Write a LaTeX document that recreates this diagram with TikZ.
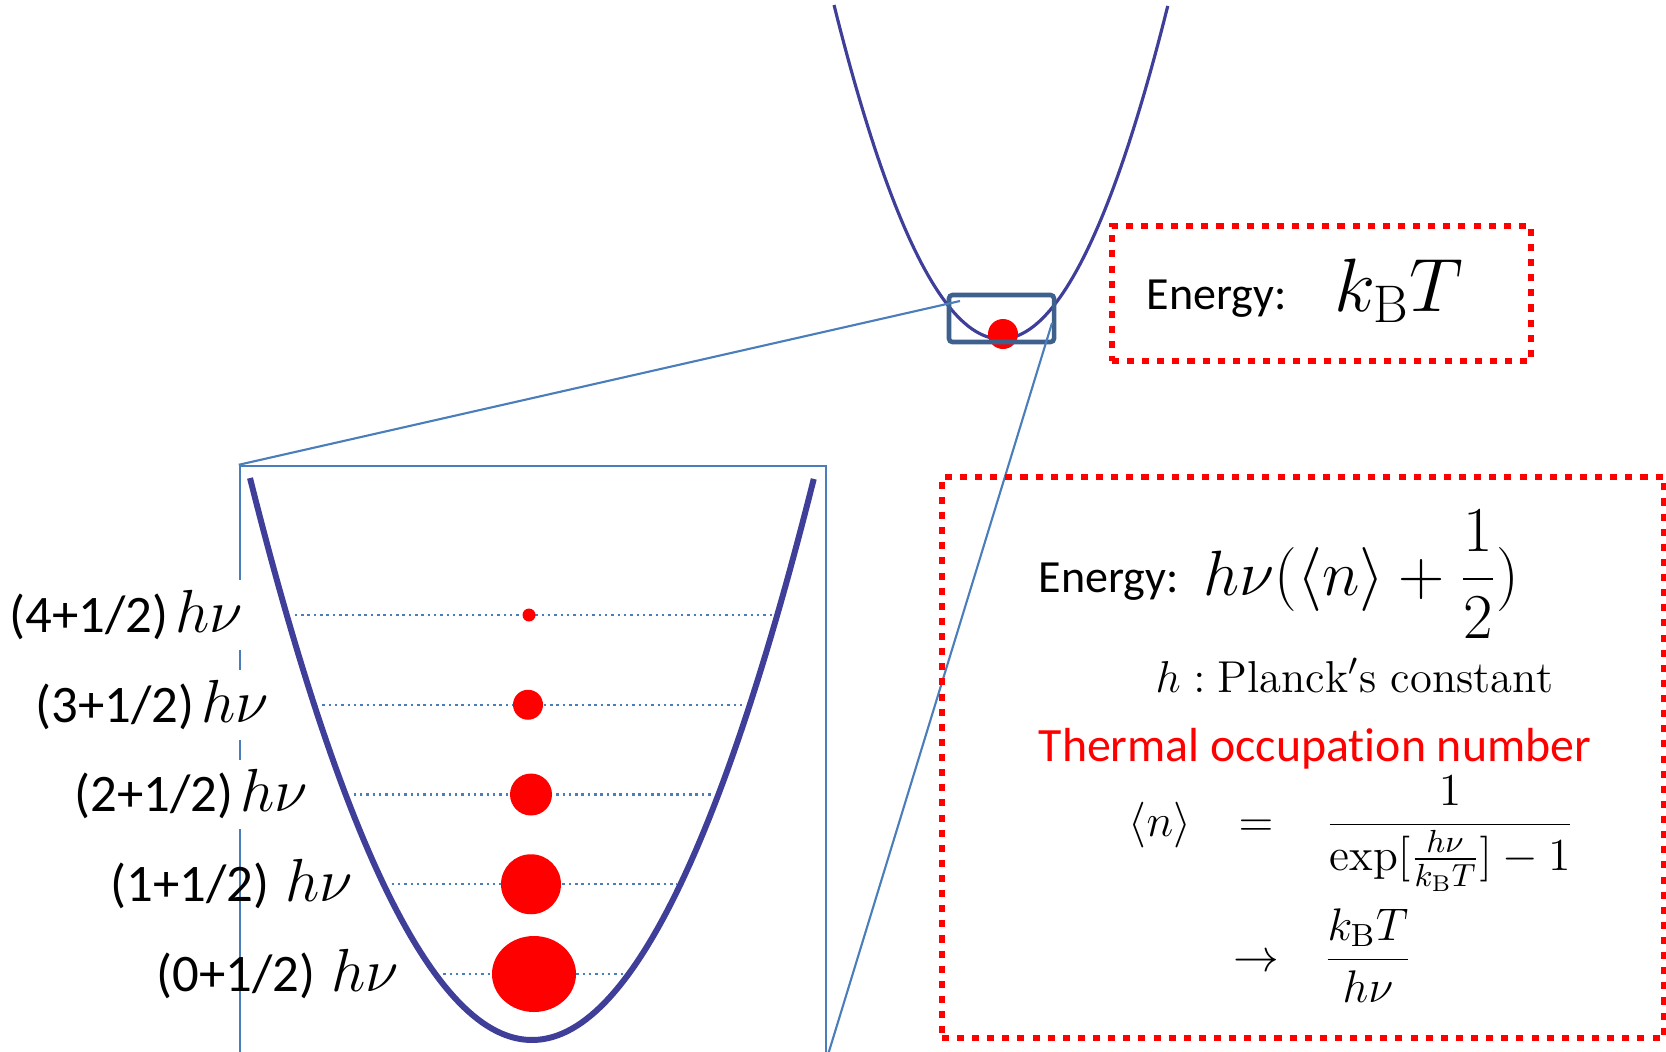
\RequirePackage{fix-cm}
\documentclass[tikz,border=0pt]{standalone}
\usepackage{amsmath}
\usepackage{fontspec}
\setsansfont{Carlito}[Ligatures=NoCommon]
\usetikzlibrary{positioning}

\definecolor{wellblue}{RGB}{63,63,153}
\definecolor{zoomblue}{RGB}{74,126,187}
\definecolor{spotblue}{RGB}{62,96,140}

\newcommand{\sanslab}{\sffamily\fontsize{15}{18}\selectfont}
\newcommand{\mathlab}{\fontsize{17.3}{20}\selectfont}

\tikzset{
  zoomline/.style={zoomblue, line width=0.6pt},
  levelline/.style={zoomblue, line width=0.7pt, dash pattern=on 0.7pt off 1.1pt},
  redbox/.style={draw=red, line width=1.7pt, dash pattern=on 2pt off 2.3pt, inner sep=0pt},
  levellabel/.style={inner xsep=0pt, inner ysep=0.1cm},
  energytext/.style={inner sep=0pt, font=\sffamily\fontsize{13.1}{16}\selectfont},
  eqtext/.style={inner sep=0pt, font=\fontsize{13}{16}\selectfont}
}

\begin{document}
\begin{tikzpicture}[x=0.01cm, y=-0.01cm]
\useasboundingbox (0,0) rectangle (1666,1051);
\clip (0,0) rectangle (1666,1051);

% --- Upper well with the thermal particle ---
\draw[wellblue, line width=0.9pt, domain=-1:1, samples=100]
  plot ({1001+167*\x}, {339-334*\x*\x});
\fill[red] (1003,334) circle[radius=15];
\node[draw=spotblue, line width=1.3pt, rounded corners=1pt, inner sep=0pt,
      minimum width=1.05cm, minimum height=0.47cm] (spot) at (1001.5,318.5) {};

% --- Zoomed view ---
\node[draw=zoomblue, line width=0.6pt, inner sep=0pt,
      minimum width=5.86cm, minimum height=5.9cm] (zoombox) at (533,761) {};
\coordinate (spotL) at (960,301);
\coordinate (spotR) at (1052,323);
\draw[zoomline] (spotL) -- (zoombox.north west);
\draw[zoomline] (spotR) -- (zoombox.south east);

% lower well
\draw[wellblue, line width=1.7pt, domain=-1:1, samples=120]
  plot ({532+282*\x}, {1040-562*\x*\x});

% energy levels
\foreach \n in {0,...,4}{
  \pgfmathsetmacro\yl{974-89.75*\n}
  \pgfmathsetmacro\hw{282*sqrt((1040-\yl)/562)}
  \draw[levelline] ({532-\hw+8},\yl) -- ({532+\hw-4},\yl);
}

% occupation of each level
\foreach \n/\xc/\rx/\ry in {0/534/42/38, 1/531/30/30, 2/531/21/21, 3/528/15/15, 4/529/6.5/6.5}
  \fill[red] (\xc,{974-89.75*\n}) ellipse[x radius=\rx, y radius=\ry];

% level labels
\foreach \n/\xl/\gap/\bg in {0/156/0.16cm/none, 1/110/0.16cm/none, 2/74/0.07cm/white, 3/35/0.07cm/white, 4/9/0.07cm/white}
  \node[levellabel, fill=\bg, anchor=west] (lab\n) at (\xl,{974-89.75*\n})
    {{\sanslab(\n+1/2)}\hspace{\gap}{\mathlab$h\nu$}};

% --- Classical energy ---
\node[redbox, minimum width=4.19cm, minimum height=1.35cm] (kTbox) at (1321.5,293.5) {};
\node[energytext, anchor=base west] (kTword) at (1146,309) {Energy:};
\node[inner sep=0pt, anchor=base west, font=\fontsize{21.5}{25}\selectfont] (kT) at (1334,311) {$k_{\mathrm{B}}T$};

% --- Quantum energy ---
\node[redbox, minimum width=7.22cm, minimum height=5.61cm] (nbox) at (1303,757.5) {};
\node[energytext, anchor=base west] (Eword) at (1038,592) {Energy:};
\node[inner sep=0pt, anchor=base west, font=\fontsize{18.2}{21}\selectfont] (Eform) at (1203,595)
  {$\displaystyle h\nu(\langle n\rangle+\frac{1}{2})$};
\node[inner sep=0pt, anchor=base west, font=\fontsize{12.7}{15}\selectfont] (planck) at (1155,692)
  {$h : \mathrm{Planck's\ constant}$};
\node[inner sep=0pt, anchor=base west, text=red, font=\sffamily\fontsize{13.6}{16}\selectfont] (thermal) at (1038,761)
  {Thermal occupat\kern0pt ion number};
\node[eqtext, anchor=base] (nmean) at (1160,836) {$\langle n\rangle$};
\node[eqtext, anchor=base] (eqsign) at (1256,836) {$=$};
\node[eqtext, anchor=base] (bose) at (1450,836) {$\displaystyle\frac{1}{\exp[\frac{h\nu}{k_{\mathrm{B}}T}]-1}$};
\node[eqtext, anchor=base] (arrow) at (1256,971) {$\rightarrow$};
\node[eqtext, anchor=base] (classic) at (1368,971) {$\displaystyle\frac{k_{\mathrm{B}}T}{h\nu}$};

\end{tikzpicture}
\end{document}
